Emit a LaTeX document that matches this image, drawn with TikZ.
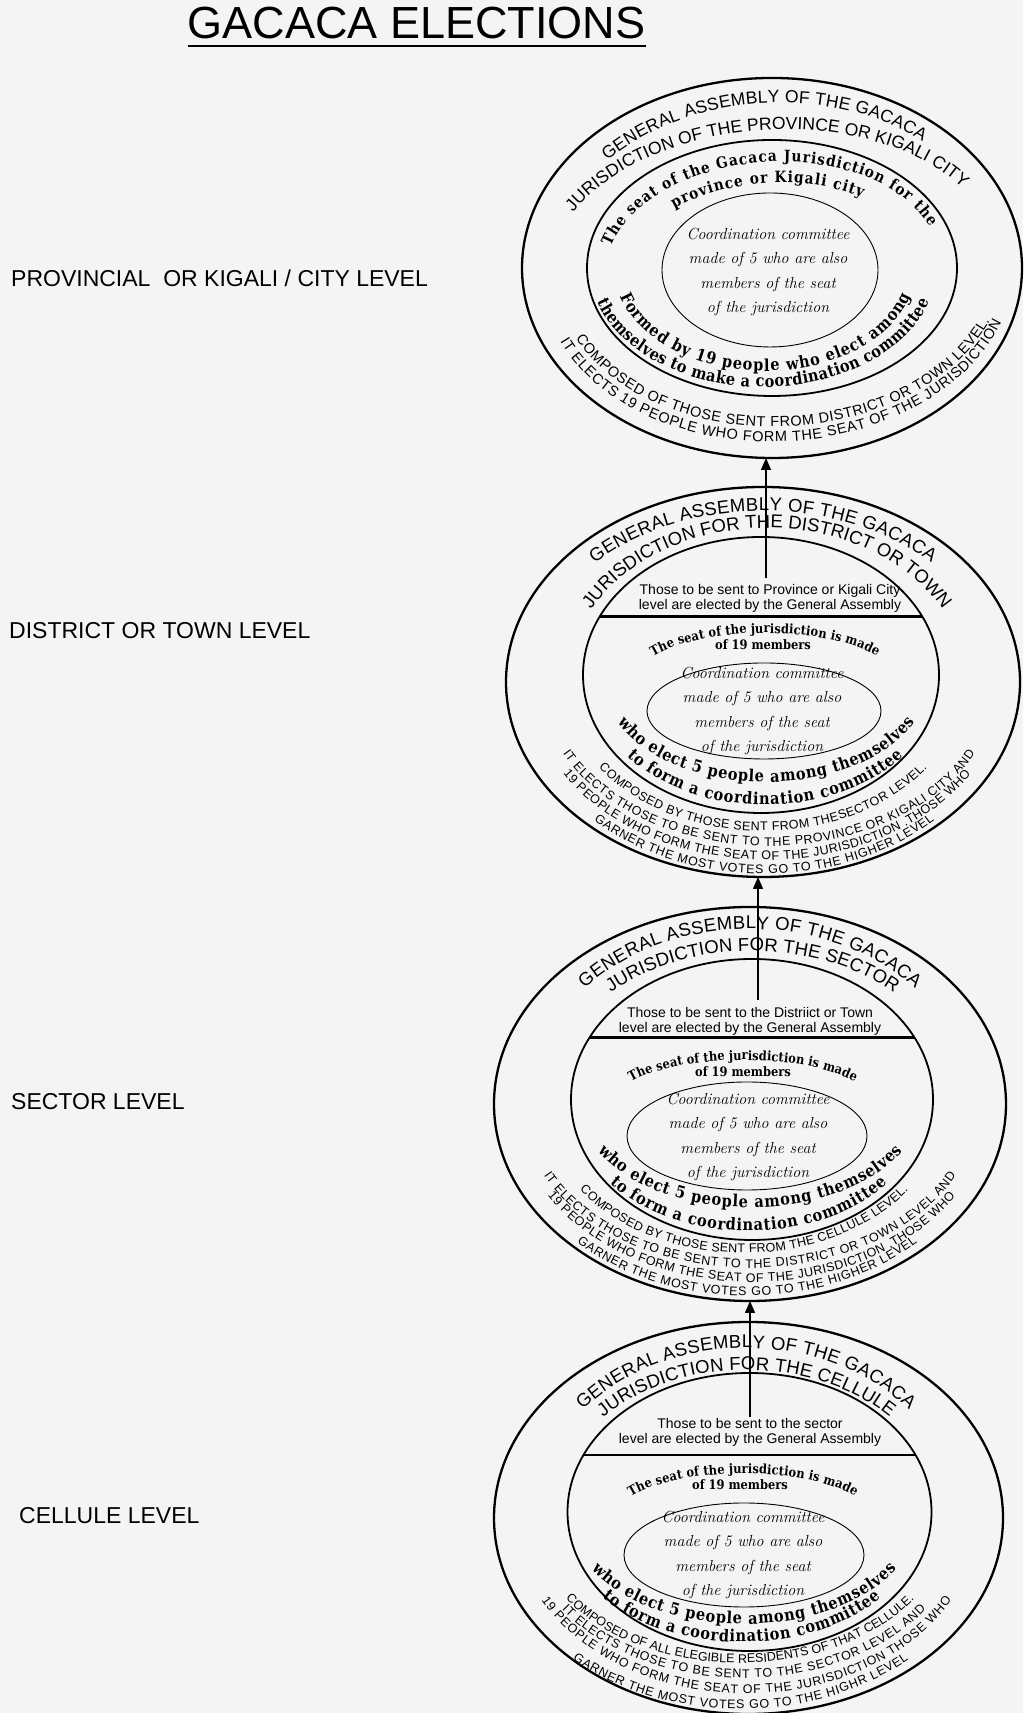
\documentclass[tikz,border=0pt]{standalone}
\usepackage{fontspec}
\newfontfamily\arialfont{Liberation Sans}
\newfontfamily\seatfont{DejaVu Serif}[FakeStretch=0.88]
\usetikzlibrary{shapes.geometric,arrows.meta,decorations.text}

\definecolor{paper}{RGB}{244,244,245}

\newcommand\provcapsfont{\arialfont\fontsize{17.5}{17.5}\selectfont}
\newcommand\assemblyfont{\arialfont\fontsize{18.5}{18.5}\selectfont}
\newcommand\composedfont{\arialfont\fontsize{12.5}{12.5}\selectfont}
\newcommand\provcomposedfont{\arialfont\fontsize{14.5}{14.5}\selectfont}
\newcommand\seatarcfont{\seatfont\bfseries\fontsize{13}{13}\selectfont}
\newcommand\provseatfont{\seatfont\bfseries\fontsize{15.5}{15.5}\selectfont}
\newcommand\electfont{\seatfont\bfseries\fontsize{16.5}{16.5}\selectfont}

\tikzset{
  outerring/.style={draw, ellipse, line width=2.3pt, inner sep=0pt, outer sep=0pt},
  midring/.style={draw, ellipse, line width=1.8pt, inner sep=0pt, outer sep=0pt},
  innerring/.style={draw, ellipse, line width=0.9pt, inner sep=0pt, outer sep=0pt},
  chord/.style={line width=2.6pt},
  uparrow/.style={line width=1.4pt, -{Triangle[width=10pt, length=12pt]}},
  titletext/.style={inner sep=0pt, font=\arialfont\fontsize{45}{45}\selectfont},
  levellabel/.style={anchor=west, inner sep=0pt, font=\arialfont\fontsize{23}{23}\selectfont},
  sendtext/.style={align=center, inner sep=0pt, font=\arialfont\fontsize{14}{15}\selectfont},
  coordtext/.style={align=center, inner sep=0pt, font=\itshape\addfontfeatures{FakeBold=1.5}\fontsize{16}{24.5}\selectfont},
  membertext/.style={inner sep=0pt, font=\seatfont\bfseries\fontsize{13}{13}\selectfont},
  arctext/.style 2 args={decorate, decoration={text along path, text align=fit to path, text={|#1|#2}}},
}

\begin{document}
\begin{tikzpicture}[x=1pt, y=1pt]
  \fill[paper] (0,0) rectangle (1023,1713);
  \useasboundingbox (0,0) rectangle (1023,1713);

  \node[titletext, anchor=base] (title) at (416.5,1674) {GACACA ELECTIONS};
  \draw[line width=2.6pt] ([yshift=-7pt]title.base west) -- ([yshift=-7pt]title.base east);

  \node[levellabel] (plabel) at (11,1435) {PROVINCIAL\ \ OR KIGALI / CITY LEVEL};
  \node[levellabel] (dlabel) at (9,1082) {DISTRICT OR TOWN LEVEL};
  \node[levellabel] (slabel) at (11,611) {SECTOR LEVEL};
  \node[levellabel] (clabel) at (19,197) {CELLULE LEVEL};

  % province or Kigali city
  \begin{scope}[shift={(772,1445)}]
    \node[outerring, minimum width=500pt, minimum height=380pt] (pouter) at (0,0) {};
    \node[midring, minimum width=370pt, minimum height=256pt] (pmid) at (0,0) {};
    \node[innerring, minimum width=216pt, minimum height=154pt] (pinner) at (-2,-2) {};
    \node[coordtext] (pcoord) at (-4,-4) {Coordination committee\\made of 5 who are also\\members of the seat\\of the jurisdiction};
    \begin{scope}[rotate=3.5]
      \path[arctext={\provcapsfont}{GENERAL ASSEMBLY OF THE GACACA}] (134.8:224 and 165) arc[start angle=134.8, end angle=45.2, x radius=224, y radius=165];
      \path[arctext={\provcapsfont}{JURISDICTION OF THE PROVINCE OR KIGALI CITY}] (150.5:224 and 138) arc[start angle=150.5, end angle=29.5, x radius=224, y radius=138];
      \path[arctext={\provseatfont}{The seat of the Gacaca Jurisdiction for the}] (163:167 and 106) arc[start angle=163, end angle=17, x radius=167, y radius=106];
      \path[arctext={\provseatfont}{province or Kigali city}] (130.1:146 and 85) arc[start angle=130.1, end angle=49.9, x radius=146, y radius=85];
    \end{scope}
    \path[arctext={\electfont}{Formed by 19 people who elect among}] ([xshift=-7pt]195.8:151 and 103) arc[start angle=195.8, end angle=344.2, x radius=151, y radius=103];
    \path[arctext={\electfont}{themselves to make a coordination committee}] ([xshift=-9pt]196.4:173 and 119) arc[start angle=196.4, end angle=343.6, x radius=173, y radius=119];
    \path[rotate=2.5, arctext={\provcomposedfont}{COMPOSED OF THOSE SENT FROM DISTRICT OR TOWN LEVEL.}] ([xshift=8pt]202.95:225 and 159) arc[start angle=202.95, end angle=337.05, x radius=225, y radius=159];
    \path[rotate=2.5, arctext={\provcomposedfont}{IT ELECTS 19 PEOPLE WHO FORM THE SEAT OF THE JURISDICTION}] ([xshift=6pt]201.8:238 and 174) arc[start angle=201.8, end angle=338.2, x radius=238, y radius=174];
  \end{scope}

  % district or town
  \begin{scope}[shift={(763,1031)}]
    \node[outerring, minimum width=514pt, minimum height=390pt] (douter) at (0,0) {};
    \node[midring, minimum width=356pt, minimum height=276pt] (dmid) at (-2,7) {};
    \node[innerring, minimum width=234pt, minimum height=96pt] (dinner) at (1,-29) {};
    \draw[chord] (dmid.160) -- (dmid.20);
    \coordinate (dsend) at (3,104);
    \node[sendtext] (dsendtext) at (7,84) {Those to be sent to Province or Kigali City\\level are elected by the General Assembly};
    \node[membertext] (dmembers) at (0,37) {of 19 members};
    \node[coordtext] (dcoord) at (-1,-29) {Coordination committee\\made of 5 who are also\\members of the seat\\of the jurisdiction};
    \path[arctext={\assemblyfont}{GENERAL ASSEMBLY OF THE GACACA}] (136:234 and 171) arc[start angle=136, end angle=44, x radius=234, y radius=171];
    \path[arctext={\assemblyfont}{JURISDICTION FOR THE DISTRICT OR TOWN}] ([xshift=4pt]152:199 and 154) arc[start angle=152, end angle=28, x radius=199, y radius=154];
    \path[arctext={\seatarcfont}{The seat of the jurisdiction is made}] ([xshift=2pt]148.7:131 and 49) arc[start angle=148.7, end angle=31.3, x radius=131, y radius=49];
    \path[arctext={\electfont}{who elect 5 people among themselves}] ([xshift=3pt]203.6:162 and 100) arc[start angle=203.6, end angle=336.4, x radius=162, y radius=100];
    \path[arctext={\electfont}{to form a coordination committee}] ([xshift=2pt]217:173 and 123) arc[start angle=217, end angle=323, x radius=173, y radius=123];
    \path[arctext={\composedfont}{COMPOSED BY THOSE SENT FROM THESECTOR LEVEL.}] (215.2:201 and 149) arc[start angle=215.2, end angle=324.8, x radius=201, y radius=149];
    \path[arctext={\composedfont}{IT ELECTS THOSE TO BE SENT TO THE PROVINCE OR KIGALI CITY AND}] ([xshift=6pt]205.8:229 and 164) arc[start angle=205.8, end angle=334.2, x radius=229, y radius=164];
    \path[arctext={\composedfont}{19 PEOPLE WHO FORM THE SEAT OF THE JURISDICTION .THOSE WHO}] ([xshift=4pt]211.1:238 and 178) arc[start angle=211.1, end angle=328.9, x radius=238, y radius=178];
    \path[arctext={\composedfont}{GARNER THE MOST VOTES GO TO THE HIGHER LEVEL}] ([xshift=1pt]226:245 and 192) arc[start angle=226, end angle=314, x radius=245, y radius=192];
  \end{scope}

  % sector
  \begin{scope}[shift={(750,609)}]
    \node[outerring, minimum width=512pt, minimum height=394pt] (souter) at (0,0) {};
    \node[midring, minimum width=362pt, minimum height=281pt] (smid) at (2,4.5) {};
    \node[innerring, minimum width=240pt, minimum height=108pt] (sinner) at (-3,-32) {};
    \draw[chord] (smid.159) -- (smid.21);
    \coordinate (ssend) at (8,104);
    \node[sendtext] (ssendtext) at (0,83) {Those to be sent to the Distriict or Town\\level are elected by the General Assembly};
    \node[membertext] (smembers) at (-7,32) {of 19 members};
    \node[coordtext] (scoord) at (-2,-33) {Coordination committee\\made of 5 who are also\\members of the seat\\of the jurisdiction};
    \path[arctext={\assemblyfont}{GENERAL ASSEMBLY OF THE GACACA}] (138.7:220 and 175) arc[start angle=138.7, end angle=41.3, x radius=220, y radius=175];
    \path[arctext={\assemblyfont}{JURISDICTION FOR THE SECTOR}] ([xshift=2.5pt]133.2:207 and 153) arc[start angle=133.2, end angle=46.8, x radius=207, y radius=153];
    \path[arctext={\seatarcfont}{The seat of the jurisdiction is made}] ([xshift=-7pt]150:129 and 44) arc[start angle=150, end angle=30, x radius=129, y radius=44];
    \path[arctext={\electfont}{who elect 5 people among themselves}] (207:171 and 103.5) arc[start angle=207, end angle=333, x radius=171, y radius=103.5];
    \path[arctext={\electfont}{to form a coordination committee}] ([xshift=-1.5pt]218.8:178 and 127) arc[start angle=218.8, end angle=321.2, x radius=178, y radius=127];
    \path[arctext={\composedfont}{COMPOSED BY THOSE SENT FROM THE CELLULE LEVEL.}] ([xshift=-6pt]215.2:201 and 149) arc[start angle=215.2, end angle=324.8, x radius=201, y radius=149];
    \path[arctext={\composedfont}{IT ELECTS THOSE TO BE SENT TO THE DISTRICT OR TOWN LEVEL AND}] (205.8:229 and 164) arc[start angle=205.8, end angle=334.2, x radius=229, y radius=164];
    \path[arctext={\composedfont}{19 PEOPLE WHO FORM THE SEAT OF THE JURISDICTION ,THOSE WHO}] ([xshift=1.5pt]211.1:238 and 178) arc[start angle=211.1, end angle=328.9, x radius=238, y radius=178];
    \path[arctext={\composedfont}{GARNER THE MOST VOTES GO TO THE HIGHER LEVEL}] ([xshift=-3pt]226:245 and 192) arc[start angle=226, end angle=314, x radius=245, y radius=192];
  \end{scope}

  % cellule
  \begin{scope}[shift={(748.5,195)}]
    \node[outerring, minimum width=509pt, minimum height=392pt] (couter) at (0,0) {};
    \node[midring, minimum width=364pt, minimum height=278pt] (cmid) at (1,6) {};
    \node[innerring, minimum width=240pt, minimum height=104pt] (cinner) at (-4.5,-37) {};
    \draw[chord] (cmid.161) -- (cmid.19);
    \coordinate (csend) at (1.5,101);
    \node[sendtext] (csendtext) at (1.5,86) {Those to be sent to the sector\\level are elected by the General Assembly};
    \node[membertext] (cmembers) at (-8.5,33) {of 19 members};
    \node[coordtext] (ccoord) at (-5.5,-37) {Coordination committee\\made of 5 who are also\\members of the seat\\of the jurisdiction};
    \path[arctext={\assemblyfont}{GENERAL ASSEMBLY OF THE GACACA}] ([xshift=-2.5pt]140.6:211 and 170) arc[start angle=140.6, end angle=39.4, x radius=211, y radius=170];
    \path[arctext={\assemblyfont}{JURISDICTION FOR THE CELLULE}] ([xshift=-2pt]137:196 and 148) arc[start angle=137, end angle=43, x radius=196, y radius=148];
    \path[arctext={\seatarcfont}{The seat of the jurisdiction is made}] ([xshift=-5.5pt]151.1:128 and 44.5) arc[start angle=151.1, end angle=28.9, x radius=128, y radius=44.5];
    \path[arctext={\electfont}{who elect 5 people among themselves}] ([xshift=-4.5pt]208.8:174 and 106) arc[start angle=208.8, end angle=331.2, x radius=174, y radius=106];
    \path[arctext={\electfont}{to form a coordination committee}] ([xshift=-7pt]220.1:182 and 124) arc[start angle=220.1, end angle=319.9, x radius=182, y radius=124];
    \path[arctext={\composedfont}{COMPOSED OF ALL ELEGIBLE RESIDENTS OF THAT CELLULE.}] ([xshift=-8.5pt]213.9:210 and 145) arc[start angle=213.9, end angle=326.1, x radius=210, y radius=145];
    \path[arctext={\composedfont}{IT ELECTS THOSE TO BE SENT TO THE SECTOR LEVEL AND}] ([xshift=-4.5pt]214.9:222 and 160) arc[start angle=214.9, end angle=325.1, x radius=222, y radius=160];
    \path[arctext={\composedfont}{19 PEOPLE WHO FORM THE SEAT OF THE JURISDICTION THOSE WHO}] ([xshift=-2pt]207.9:232 and 175.5) arc[start angle=207.9, end angle=332.1, x radius=232, y radius=175.5];
    \path[arctext={\composedfont}{GARNER THE MOST VOTES GO TO THE HIGHR LEVEL}] ([xshift=-8pt]227.8:250 and 191) arc[start angle=227.8, end angle=312.2, x radius=250, y radius=191];
  \end{scope}

  \draw[uparrow] (dsend) -- (dsend |- pouter.south);
  \draw[uparrow] (ssend) -- (ssend |- douter.south);
  \draw[uparrow] (csend) -- (csend |- souter.south);
\end{tikzpicture}
\end{document}
